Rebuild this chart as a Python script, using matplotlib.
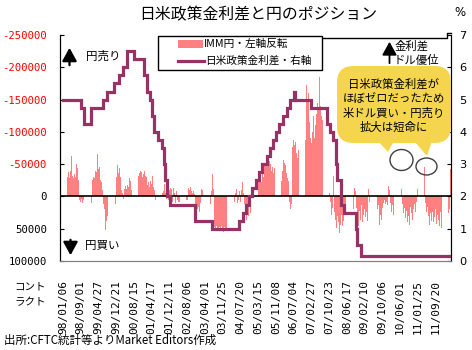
import matplotlib
matplotlib.use("Agg")
import matplotlib.pyplot as plt
import numpy as np
import pandas as pd
from matplotlib.patches import FancyBboxPatch, Polygon, Ellipse, Rectangle, FancyArrowPatch
from matplotlib.lines import Line2D

# ---------------- data ----------------
start_date = "1998-01-06"
# IMM yen net positions (contracts), one value every two weeks from 1998-01-06
imm_yen = [
    -36000, -14000, -10000, -22000, -30000, -38000, -28000, -40000, -62000, -32000,
    -28000, -34000, -30000, -50000, -44000, -26000, 6000, 8000, 4000, 10000,
    5000, 9000, 12000, 6000, 21000, 8000, 4000, 10000, -25000, -30000,
    -28000, -40000, -38000, -66000, -42000, -45000, -25000, -22000, -10000, 12000,
    20000, 52000, 38000, 30000, 40000, 24000, 34000, 18000, 28000, 14000,
    12000, -30000, -48000, -36000, -44000, -30000, -10000, -6000, 4000, -12000,
    -16000, -12000, -18000, -14000, -28000, -24000, -10000, -8000, -12000, -30000,
    -34000, -38000, -32000, -36000, -40000, -38000, -30000, -34000, -40000, -32000,
    -30000, -18000, -22000, -15000, -24000, -20000, -32000, -14000, -10000, 5000,
    -8000, 14000, 29000, 22000, 16000, -6000, -8000, -20000, -6000, 4000,
    -4000, 6000, -10000, -13000, -12000, 8000, -13000, -6000, 10000, -8000,
    6000, 8000, 9000, 5000, 7000, 9000, 4000, 8000, 6000, 5000,
    -13000, -10000, -14000, -8000, -6000, -8000, -4000, 12000, 34000, 20000,
    16000, 24000, 10000, -12000, -10000, -14000, -6000, 14000, 29000, 20000,
    26000, 12000, -8000, -35000, -11000, 48000, 50000, 46000, 52000, 54000,
    48000, 50000, 46000, 52000, 55000, 48000, 50000, 53000, 60000, 50000,
    -30000, -8000, 6000, -10000, 8000, -6000, -12000, 10000, 5000, -8000,
    9000, -10000, -22000, -6000, 12000, 24000, 36000, 18000, 30000, 10000,
    26000, 14000, 20000, -25000, -36000, -53000, -30000, -24000, -36000, -28000,
    -22000, -36000, -30000, -48000, -52000, -57000, -50000, -47000, -55000, -50000,
    -40000, -46000, -36000, -44000, -38000, -30000, -21000, -26000, -22000, -24000,
    -40000, -57000, -52000, -48000, -36000, -29000, -24000, 8000, 20000, 12000,
    -77000, -88000, -80000, -84000, -67000, -60000, -72000, -66000, -113000, -100000,
    -93000, -70000, -88000, -172000, -150000, -160000, -116000, -90000, -82000, -100000,
    -124000, -90000, -110000, -128000, -144000, -136000, -185000, -140000, -125000, -118000,
    -21000, 10000, 5000, -6000, 4000, -6000, 8000, 29000, 18000, -31000,
    24000, 36000, 49000, 30000, 40000, 56000, 44000, 28000, 46000, 38000,
    26000, 18000, 29000, 9000, 22000, 14000, 24000, 12000, 20000, -13000,
    -8000, 18000, 30000, 46000, 22000, 36000, 14000, 40000, 28000, 20000,
    32000, 24000, 38000, -11000, 9000, 22000, 34000, 16000, 26000, 12000,
    30000, 20000, 14000, 44000, 28000, 36000, 18000, 10000, 6000, 12000,
    8000, 14000, -16000, -10000, 10000, 24000, 14000, 28000, 20000, 16000,
    22000, -53000, -21000, -18000, -12000, 11000, 26000, 18000, 34000, 22000,
    40000, 30000, 44000, 16000, 26000, 36000, 20000, 12000, 24000, 9000,
    -11000, -20000, -31000, -18000, -12000, -26000, -46000, 10000, 24000, 16000,
    30000, 44000, 26000, 38000, 24000, 40000, 32000, 20000, 42000, 28000,
    36000, 46000, 24000, 49000, 30000, 40000, 22000, 44000, 34000, 26000,
    20000, -42000, -30000,
]

# US-Japan policy rate differential (%), step changes
rate_dates = ['1998-01-06', '1998-09-08', '1998-10-15', '1999-01-19', '1999-06-30',
              '1999-08-24', '1999-11-16', '2000-02-02', '2000-03-21', '2000-05-16',
              '2000-08-11', '2001-01-03', '2001-01-31', '2001-03-20', '2001-04-18',
              '2001-05-15', '2001-06-27', '2001-08-21', '2001-09-17', '2001-10-02',
              '2001-11-06', '2001-12-11', '2002-11-06', '2003-06-25', '2004-06-30',
              '2004-08-10', '2004-09-21', '2004-11-10', '2004-12-14', '2005-02-02',
              '2005-03-22', '2005-05-03', '2005-06-30', '2005-08-09', '2005-09-20',
              '2005-11-01', '2005-12-13', '2006-01-31', '2006-03-28', '2006-05-10',
              '2006-06-29', '2006-07-14', '2007-02-21', '2007-09-18', '2007-10-31',
              '2007-12-11', '2008-01-22', '2008-01-30', '2008-03-18', '2008-04-30',
              '2008-10-08', '2008-10-29', '2008-12-16', '2012-04-24']
rate_diff = [5.0, 4.75, 4.25, 4.75, 5.0, 5.25, 5.5, 5.75, 6.0, 6.5,
             6.25, 5.75, 5.25, 5.0, 4.5, 4.0, 3.75, 3.5, 3.0, 2.5,
             2.0, 1.75, 1.25, 1.0, 1.25, 1.5, 1.75, 2.0, 2.25, 2.5,
             2.75, 3.0, 3.25, 3.5, 3.75, 4.0, 4.25, 4.5, 4.75, 5.0,
             5.25, 5.0, 4.75, 4.25, 4.0, 3.75, 3.0, 2.5, 1.75, 1.5,
             1.0, 0.5, 0.15, 0.15]

tick_labels = ['98/01/06', '98/09/01', '99/04/27', '99/12/21', '00/08/15', '01/04/17',
               '01/12/11', '02/08/06', '03/04/01', '03/11/25', '04/07/20', '05/03/15',
               '05/11/08', '06/07/04', '07/02/27', '07/10/23', '08/06/17', '09/02/10',
               '09/10/06', '10/06/01', '11/01/25', '11/09/20']

left_ticks = [-250000, -200000, -150000, -100000, -50000, 0, 50000, 100000]
right_ticks = [0, 1, 2, 3, 4, 5, 6, 7]
legend_labels = ['IMM円・左軸反転', '日米政策金利差・右軸']

# ---------------- figure ----------------
W, H = 472, 350
def fx(x): return x / W
def fy(y): return 1 - y / H

JP = ['Noto Sans CJK JP', 'DejaVu Sans']
BAR_C = '#FF8080'
LINE_C = '#963264'

fig = plt.figure(figsize=(W / 100, H / 100), dpi=100)
ax = fig.add_axes([fx(60), fy(261), fx(451) - fx(60), fy(35) - fy(261)])
ax2 = ax.twinx()

t0 = pd.Timestamp(start_date)
bar_x = np.arange(len(imm_yen)) * 2.0
ax.bar(bar_x, imm_yen, width=1.45, color=BAR_C, linewidth=0, zorder=2)
ax.axhline(0, color='black', lw=1.2, zorder=3)

rate_w = np.array([(pd.Timestamp(d) - t0).days / 7.0 for d in rate_dates])
ax2.step(rate_w, rate_diff, where='post', color=LINE_C, lw=2.3, zorder=4,
         solid_joinstyle='miter')

ax.set_xlim(-5.7, 743.5)
ax.set_ylim(100000, -250000)
ax2.set_ylim(0, 7)

tick_pos = np.arange(len(tick_labels)) * 34
ax.set_xticks(tick_pos)
ax.set_xticklabels(tick_labels, rotation=90, family='DejaVu Sans Mono', fontsize=8.0)
ax.tick_params(axis='x', length=0, pad=13.5)

ax.set_yticks(left_ticks)
ax.set_yticklabels([str(v) for v in left_ticks], family='DejaVu Sans Mono', fontsize=7.7)
for lab, v in zip(ax.get_yticklabels(), left_ticks):
    lab.set_color('#FF0000' if v < 0 else 'black')
ax.tick_params(axis='y', direction='in', length=3, pad=9.5)

ax2.set_yticks(right_ticks)
ax2.set_yticklabels([str(v) for v in right_ticks], fontsize=8.2)
ax2.tick_params(axis='y', direction='in', length=3, pad=6)

for a in (ax, ax2):
    a.spines['top'].set_visible(False)
    a.spines['bottom'].set_color('#808080')
    a.spines['left'].set_color('black')
    a.spines['right'].set_color('black')
ax2.patch.set_visible(False)

# legend (drawn as a framed box)
fig.add_artist(Rectangle((fx(158), fy(70)), fx(322) - fx(158), fy(36) - fy(70),
                         transform=fig.transFigure, facecolor='white',
                         edgecolor='black', lw=1.0, zorder=10))
fig.add_artist(Rectangle((fx(178), fy(47.5)), fx(203) - fx(178), fy(40.5) - fy(47.5),
                         transform=fig.transFigure, facecolor=BAR_C,
                         edgecolor='none', zorder=11))
fig.add_artist(Line2D([fx(178), fx(204)], [fy(61), fy(61)], color=LINE_C, lw=2.3,
                      zorder=11))
fig.text(fx(204), fy(44), legend_labels[0], ha='left', va='center', family=JP,
         fontsize=7.7, zorder=12)
fig.text(fx(205), fy(61), legend_labels[1], ha='left', va='center', family=JP,
         fontsize=7.7, zorder=12)

# top bracket line
fig.add_artist(Line2D([fx(322), fx(447), fx(447), fx(451)],
                      [fy(37.5), fy(37.5), fy(33), fy(33)],
                      color='black', lw=1.0))

# title and texts
fig.text(fx(258), fy(14.5), '日米政策金利差と円のポジション', ha='center', va='center',
         family=JP, fontsize=11.4)
fig.text(fx(460), fy(12), '%', ha='center', va='center', fontsize=8.5)
fig.text(fx(86), fy(56), '円売り', ha='left', va='center', family=JP, fontsize=8.3)
fig.text(fx(85), fy(246), '円買い', ha='left', va='center', family=JP, fontsize=8.3)
fig.text(fx(30), fy(287), 'コント', ha='center', va='center', family=JP, fontsize=7.6)
fig.text(fx(30), fy(302), 'ラクト', ha='center', va='center', family=JP, fontsize=7.6)
fig.text(fx(4), fy(340), '出所:CFTC統計等よりMarket Editors作成', ha='left', va='center',
         family=JP, fontsize=8.3)

# arrows
for (xa, y0, y1, lw) in [(69.5, 68, 45, 1.6), (70.5, 237, 258, 1.6), (389.5, 66, 39, 1.3)]:
    fig.add_artist(FancyArrowPatch(
        (fx(xa), fy(y0)), (fx(xa), fy(y1)), transform=fig.transFigure,
        arrowstyle='-|>,head_length=4,head_width=2.2', color='black', lw=lw,
        mutation_scale=2))
fig.text(fx(395), fy(46), '金利差', ha='left', va='center', family=JP, fontsize=8.2)
fig.text(fx(394), fy(60), 'ドル優位', ha='left', va='center', family=JP, fontsize=8.2)

# circles
for (cx, cy, w, h) in [(401.5, 160, 23, 21), (426.5, 166.5, 21, 17)]:
    fig.add_artist(Ellipse((fx(cx), fy(cy)), w / W, h / H, transform=fig.transFigure,
                           facecolor='none', edgecolor='#404040', lw=1.0))

# callout
YEL = '#F6D54E'
box = FancyBboxPatch((fx(337), fy(143)), fx(451) - fx(337), fy(66) - fy(143),
                     boxstyle='round,pad=0,rounding_size=0.035',
                     transform=fig.transFigure, facecolor=YEL, edgecolor='none',
                     mutation_aspect=W / H)
fig.add_artist(box)
for tri in [[(378, 141), (394, 141), (388, 152)], [(414, 141), (432, 141), (427, 156)]]:
    fig.add_artist(Polygon([(fx(a), fy(b)) for a, b in tri], closed=True,
                           transform=fig.transFigure, facecolor=YEL, edgecolor='none'))
for txt, yy in [('日米政策金利差が', 84), ('ほぼゼロだったため', 98.5),
                ('米ドル買い・円売り', 113), ('拡大は短命に', 127.5)]:
    fig.text(fx(394), fy(yy), txt, ha='center', va='center', family=JP, fontsize=8.2)

fig.savefig('out.png', dpi=100)
